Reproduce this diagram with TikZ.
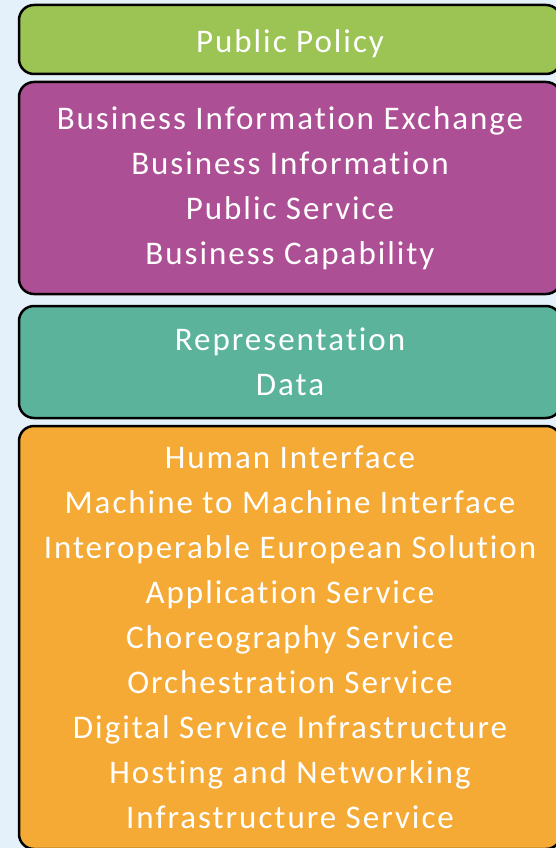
\documentclass[tikz,border=0pt]{standalone}
\usepackage{fontspec}
\setmainfont{Carlito}[Ligatures={NoCommon}, LetterSpace=6]
\usepackage{tikz}
\usetikzlibrary{positioning}
\definecolor{policygreen}{HTML}{9BC455}
\definecolor{businesspurple}{HTML}{AD4F94}
\definecolor{datateal}{HTML}{5BB39B}
\definecolor{techorange}{HTML}{F5AA36}
\definecolor{backblue}{HTML}{E5F1FA}

\begin{document}
\begin{tikzpicture}[x=1pt,y=-1pt,
    layer/.style={draw=black, line width=2.5pt, rounded corners=15pt,
      minimum width=542pt, text=white, align=center,
      font=\fontsize{33}{45}\selectfont}]
    % Background
    \fill[backblue] (0,0) rectangle (556,848);
    \useasboundingbox (0,0) rectangle (556,848);
    \clip (0,0) rectangle (556,848);

    % Layers
    \node[layer, fill=policygreen, minimum height=69pt] (policy) at (290,39.5) {};
    \node[layer, fill=businesspurple, minimum height=212pt] (business) at (290,188)
      {Business Information Exchange\\Business Information\\Public Service\\Business Capability};
    \node[layer, fill=datateal, minimum height=112pt] (data) at (290,362)
      {Representation\\Data};
    \node[layer, fill=techorange, minimum height=423pt] (technical) at (290,637.5)
      {Human Interface\\Machine to Machine Interface\\Interoperable European Solution\\Application Service\\Choreography Service\\Orchestration Service\\Digital Service Infrastructure\\Hosting and Networking\\Infrastructure Service};
    \node[text=white, font=\fontsize{33}{45}\selectfont] (policytext) at (290,44) {Public Policy};

\end{tikzpicture}
\end{document}
